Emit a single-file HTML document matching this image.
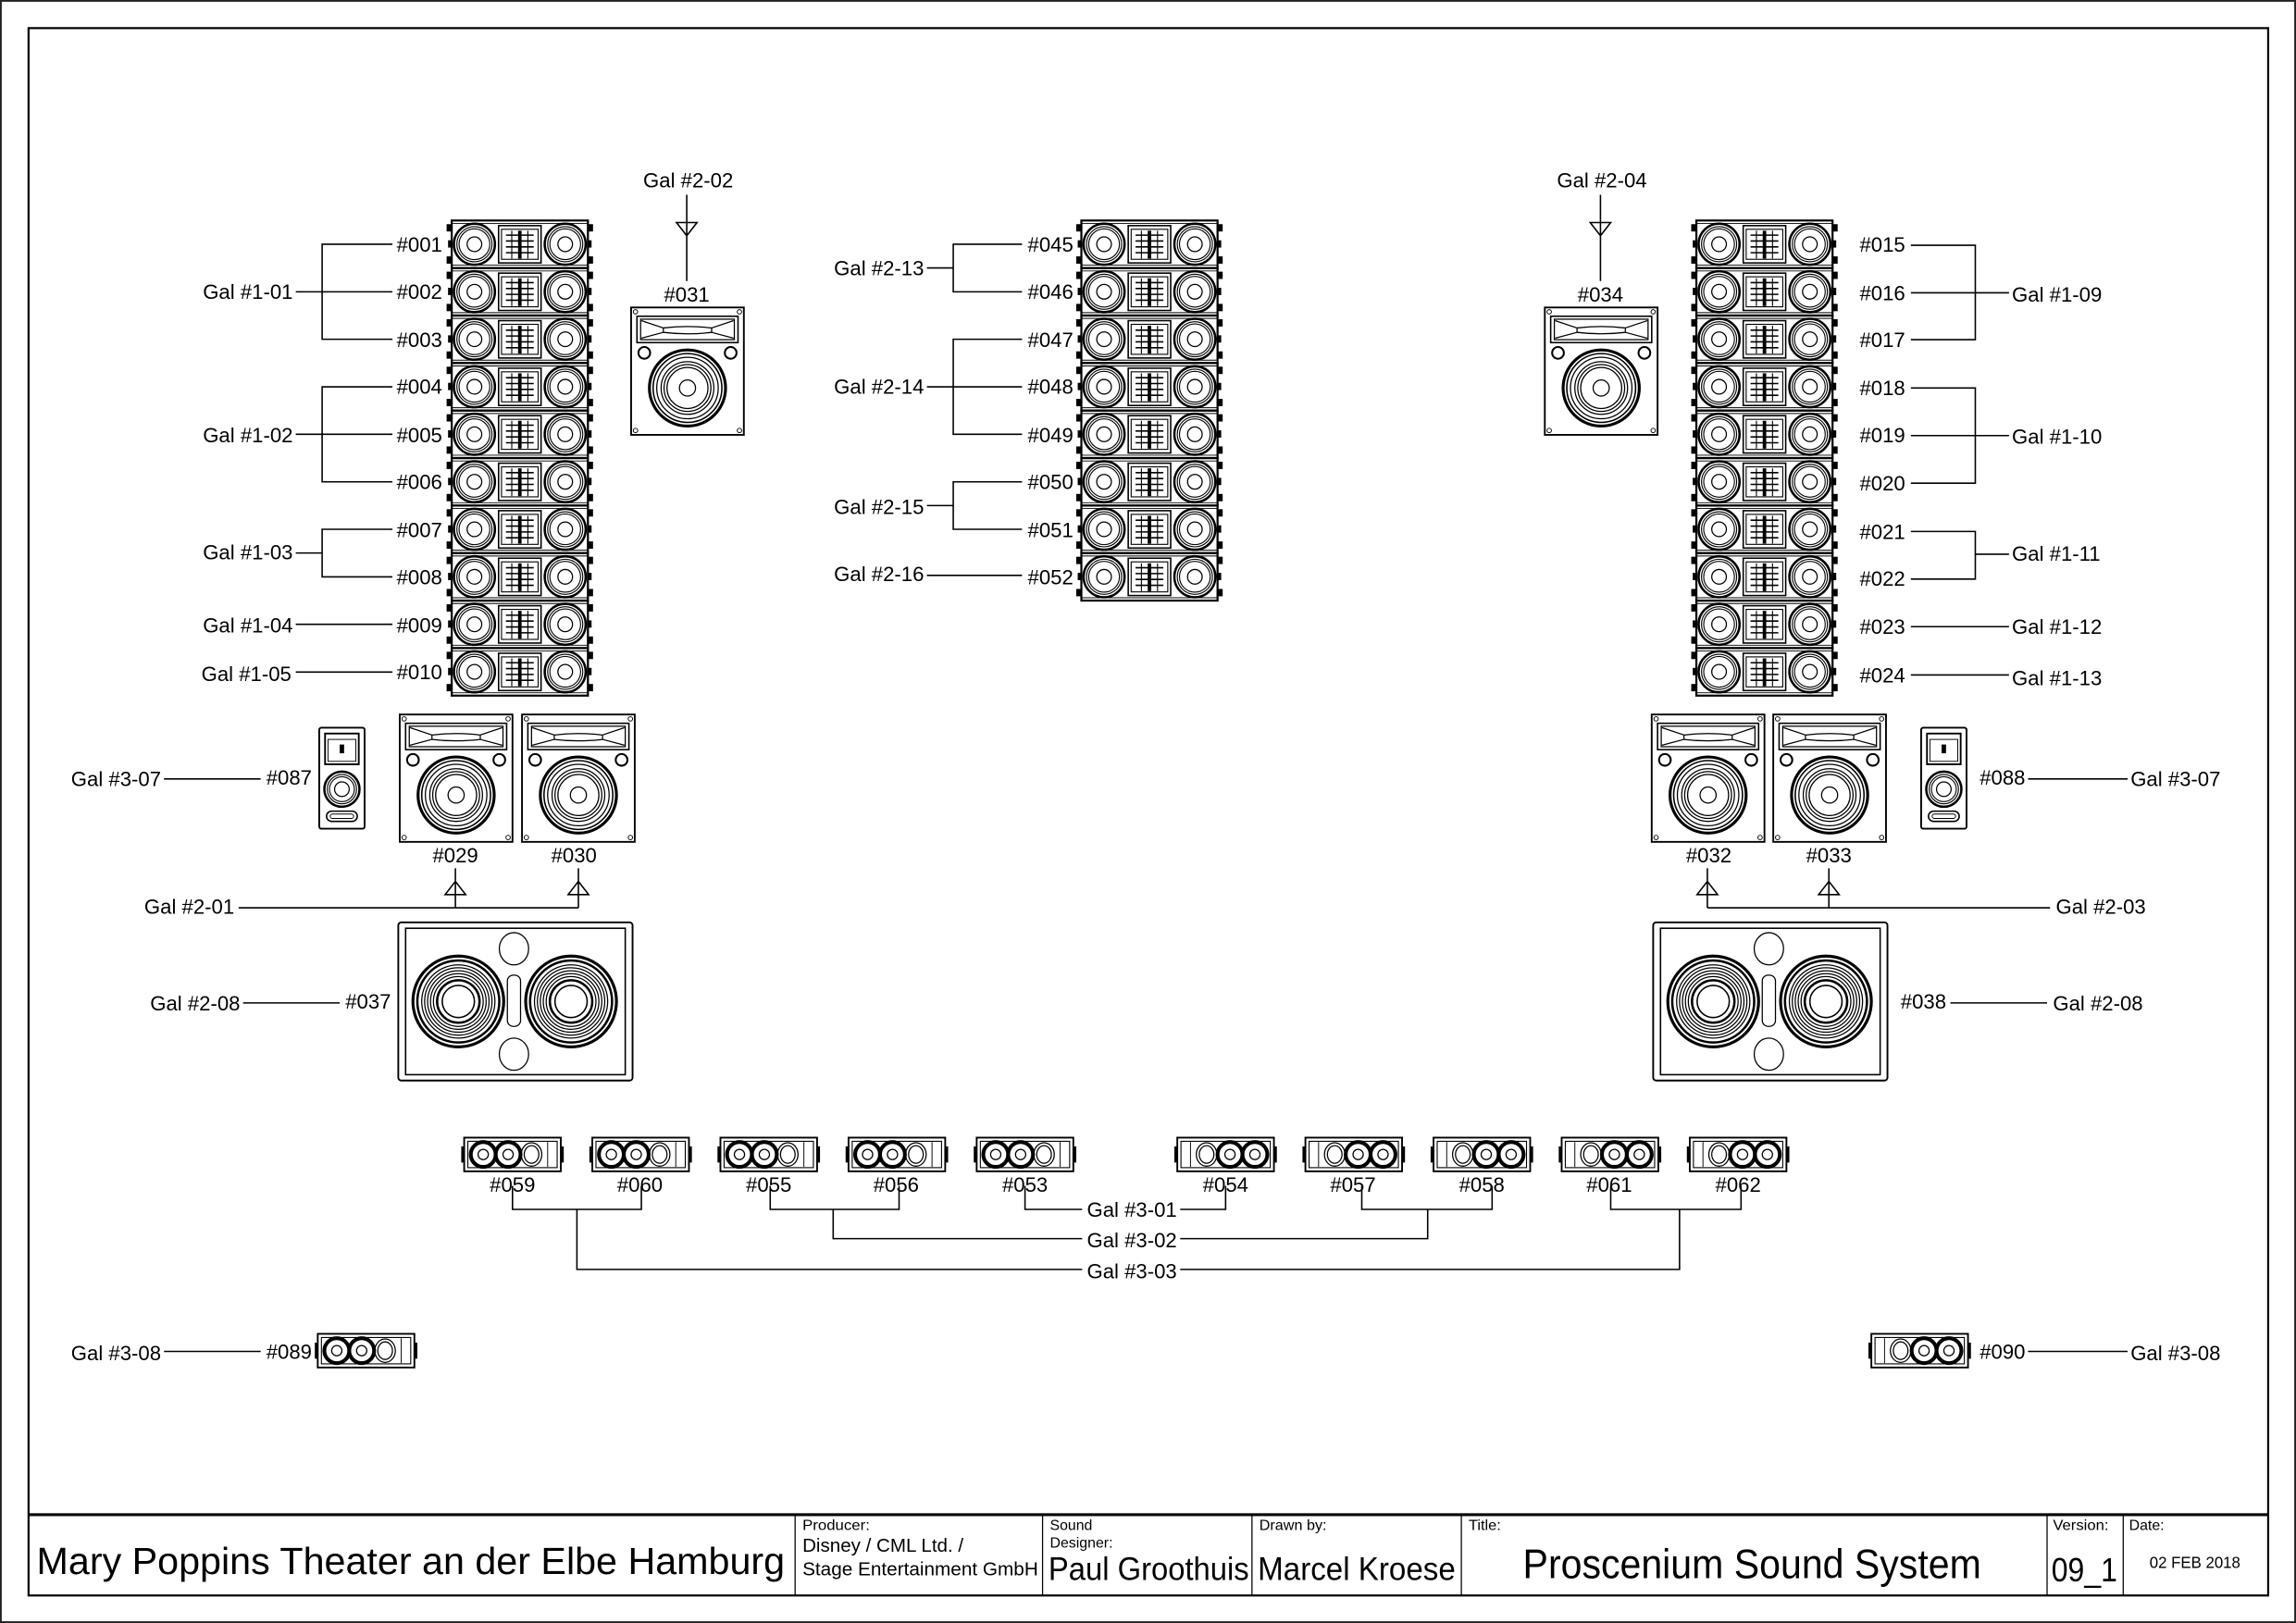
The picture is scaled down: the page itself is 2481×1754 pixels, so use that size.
<!DOCTYPE html>
<html><head><meta charset="utf-8"><style>html,body{margin:0;padding:0;background:#fff}svg{display:block}</style></head>
<body>
<svg xmlns="http://www.w3.org/2000/svg" xmlns:xlink="http://www.w3.org/1999/xlink" width="2481" height="1754" viewBox="0 0 1568 1108.5" preserveAspectRatio="none" font-family="'Liberation Sans', Arial, sans-serif" font-size="14">
<defs>
<g id="la" fill="none" stroke="#000">
  <rect x="0" y="0" width="93" height="32.45" stroke-width="1.4"/>
  <line x1="0" y1="2" x2="93" y2="2" stroke-width="0.6"/>
  <line x1="0" y1="30.5" x2="93" y2="30.5" stroke-width="0.6"/>
  <rect x="-3" y="3" width="3" height="4" fill="#000"/><rect x="-3" y="25" width="3" height="4" fill="#000"/><rect x="-2" y="14" width="2" height="4" fill="#000"/>
  <rect x="93" y="3" width="3" height="4" fill="#000"/><rect x="93" y="25" width="3" height="4" fill="#000"/><rect x="93" y="14" width="2" height="4" fill="#000"/>
  <circle cx="15.5" cy="16.2" r="14" stroke-width="1.6"/><circle cx="15.5" cy="16.2" r="12" stroke-width="0.7"/><circle cx="15.5" cy="16.2" r="10.5" stroke-width="0.7"/><circle cx="15.5" cy="16.2" r="5" stroke-width="0.8"/>
  <circle cx="77.5" cy="16.2" r="14" stroke-width="1.6"/><circle cx="77.5" cy="16.2" r="12" stroke-width="0.7"/><circle cx="77.5" cy="16.2" r="10.5" stroke-width="0.7"/><circle cx="77.5" cy="16.2" r="5" stroke-width="0.8"/>
  <rect x="32" y="3.5" width="29" height="25.5" stroke-width="1"/><rect x="34" y="6" width="25" height="20.5" stroke-width="0.7"/>
  <line x1="46.5" y1="7" x2="46.5" y2="26" stroke-width="2.4"/>
  <line x1="37" y1="10" x2="56" y2="10" stroke-width="1"/><line x1="37" y1="14" x2="56" y2="14" stroke-width="1"/><line x1="37" y1="18" x2="56" y2="18" stroke-width="1"/><line x1="37" y1="22" x2="56" y2="22" stroke-width="1"/>
  <line x1="41" y1="7" x2="41" y2="26" stroke-width="0.7"/><line x1="52" y1="7" x2="52" y2="26" stroke-width="0.7"/>
</g>
<g id="cab" fill="none" stroke="#000">
  <rect x="0" y="0" width="77" height="87" stroke-width="1.2"/>
  <circle cx="3" cy="3" r="1.5" stroke-width="0.6"/><circle cx="74" cy="3" r="1.5" stroke-width="0.6"/><circle cx="3" cy="84" r="1.5" stroke-width="0.6"/><circle cx="74" cy="84" r="1.5" stroke-width="0.6"/>
  <rect x="4" y="6" width="69" height="18" stroke-width="1"/><rect x="6.5" y="8" width="64" height="14" stroke-width="0.8"/>
  <path d="M7 9 L22 14 L22 17 L7 21 M70 9 L55 14 L55 17 L70 21 M22 14 Q38.5 12 55 14 M22 17 Q38.5 19 55 17" stroke-width="0.8"/>
  <circle cx="9" cy="31" r="4" stroke-width="1.3"/><circle cx="68" cy="31" r="4" stroke-width="1.3"/>
  <circle cx="38.5" cy="55" r="26" stroke-width="2"/><circle cx="38.5" cy="55" r="23.5" stroke-width="1"/><circle cx="38.5" cy="55" r="21" stroke-width="0.8"/><circle cx="38.5" cy="55" r="18" stroke-width="0.8"/><circle cx="38.5" cy="55" r="16" stroke-width="0.8"/><circle cx="38.5" cy="55" r="14" stroke-width="0.8"/><circle cx="38.5" cy="55" r="5.5" stroke-width="0.8"/>
</g>
<g id="sub" fill="none" stroke="#000">
  <rect x="0" y="0" width="160" height="108" rx="2" stroke-width="1.2"/>
  <rect x="5" y="4" width="150" height="100" stroke-width="1"/>
  <ellipse cx="79" cy="18" rx="10" ry="11" stroke-width="0.8"/><ellipse cx="79" cy="90" rx="10" ry="11" stroke-width="0.8"/>
  <rect x="74.5" y="36" width="9" height="35" rx="4" stroke-width="0.8"/>
  <circle cx="41" cy="54" r="31" stroke-width="2"/><circle cx="41" cy="54" r="28" stroke-width="1.6"/><circle cx="41" cy="54" r="25" stroke-width="0.8"/><circle cx="41" cy="54" r="23" stroke-width="0.8"/><circle cx="41" cy="54" r="21" stroke-width="0.8"/><circle cx="41" cy="54" r="19" stroke-width="0.8"/><circle cx="41" cy="54" r="17" stroke-width="0.8"/><circle cx="41" cy="54" r="14.5" stroke-width="1.6"/><circle cx="41" cy="54" r="11" stroke-width="1"/>
  <circle cx="118" cy="54" r="31" stroke-width="2"/><circle cx="118" cy="54" r="28" stroke-width="1.6"/><circle cx="118" cy="54" r="25" stroke-width="0.8"/><circle cx="118" cy="54" r="23" stroke-width="0.8"/><circle cx="118" cy="54" r="21" stroke-width="0.8"/><circle cx="118" cy="54" r="19" stroke-width="0.8"/><circle cx="118" cy="54" r="17" stroke-width="0.8"/><circle cx="118" cy="54" r="14.5" stroke-width="1.6"/><circle cx="118" cy="54" r="11" stroke-width="1"/>
</g>
<g id="ff" fill="none" stroke="#000">
  <rect x="0" y="0" width="66" height="23" stroke-width="1.2"/>
  <rect x="2.5" y="2.5" width="61" height="18" stroke-width="0.7"/>
  <rect x="-2" y="6" width="2" height="11" fill="#000" stroke="none"/><rect x="66" y="6" width="2" height="11" fill="#000" stroke="none"/>
  <circle cx="13" cy="11.5" r="8.5" stroke-width="2.6"/><circle cx="13" cy="11.5" r="3.5" stroke-width="0.8"/>
  <circle cx="30" cy="11.5" r="8.5" stroke-width="2.6"/><circle cx="30" cy="11.5" r="3.5" stroke-width="0.8"/>
  <ellipse cx="46" cy="11.5" rx="7" ry="8" stroke-width="0.8"/><ellipse cx="46" cy="11.5" rx="5" ry="6" stroke-width="0.8"/>
  <line x1="57" y1="3" x2="57" y2="20" stroke-width="0.6"/>
</g>
<g id="sm" fill="none" stroke="#000">
  <rect x="0" y="0" width="31" height="69" rx="1.5" stroke-width="1.2"/>
  <rect x="4" y="4" width="23" height="21" stroke-width="1.2"/><rect x="6" y="8" width="19" height="15" stroke-width="0.6"/>
  <rect x="14.5" y="12" width="2" height="5" fill="#000"/>
  <circle cx="15.5" cy="42" r="12" stroke-width="1.6"/><circle cx="15.5" cy="42" r="10" stroke-width="0.7"/><circle cx="15.5" cy="42" r="8.5" stroke-width="0.7"/><circle cx="15.5" cy="42" r="5" stroke-width="0.8"/>
  <rect x="5" y="57" width="21" height="7" rx="3.5" stroke-width="1"/><rect x="7.5" y="59" width="16" height="3" rx="1.5" stroke-width="0.6"/>
</g>
</defs>

<!-- frames -->
<rect x="0.6" y="0.6" width="1566.8" height="1107.3" fill="none" stroke="#222" stroke-width="1.2"/>
<rect x="19.5" y="19.2" width="1529.5" height="1070.5" fill="none" stroke="#000" stroke-width="1.4"/>
<line x1="19.5" y1="1034.5" x2="1549" y2="1034.5" stroke="#000" stroke-width="2"/>
<g stroke="#000" stroke-width="0.8">
<line x1="543" y1="1034" x2="543" y2="1090"/><line x1="712" y1="1034" x2="712" y2="1090"/><line x1="855" y1="1034" x2="855" y2="1090"/><line x1="998" y1="1034" x2="998" y2="1090"/><line x1="1398" y1="1034" x2="1398" y2="1090"/><line x1="1450" y1="1034" x2="1450" y2="1090"/>
</g>
<g fill="#000">
<text x="25" y="1075" font-size="26" textLength="511" lengthAdjust="spacingAndGlyphs">Mary Poppins Theater an der Elbe Hamburg</text>
<text x="548" y="1045" font-size="10" textLength="46" lengthAdjust="spacingAndGlyphs">Producer:</text>
<text x="548" y="1060" font-size="13" textLength="110" lengthAdjust="spacingAndGlyphs">Disney / CML Ltd. /</text>
<text x="548" y="1076" font-size="13" textLength="161" lengthAdjust="spacingAndGlyphs">Stage Entertainment GmbH</text>
<text x="717" y="1045" font-size="10" textLength="29" lengthAdjust="spacingAndGlyphs">Sound</text>
<text x="717" y="1057" font-size="10" textLength="43" lengthAdjust="spacingAndGlyphs">Designer:</text>
<text x="716" y="1079" font-size="22" textLength="137" lengthAdjust="spacingAndGlyphs">Paul Groothuis</text>
<text x="860" y="1045" font-size="10" textLength="46" lengthAdjust="spacingAndGlyphs">Drawn by:</text>
<text x="859" y="1079" font-size="22" textLength="135" lengthAdjust="spacingAndGlyphs">Marcel Kroese</text>
<text x="1003" y="1045" font-size="10" textLength="22" lengthAdjust="spacingAndGlyphs">Title:</text>
<text x="1040" y="1078" font-size="28" textLength="313" lengthAdjust="spacingAndGlyphs">Proscenium Sound System</text>
<text x="1402" y="1045" font-size="10" textLength="38" lengthAdjust="spacingAndGlyphs">Version:</text>
<text x="1401" y="1080" font-size="23" textLength="45" lengthAdjust="spacingAndGlyphs">09_1</text>
<text x="1454" y="1045" font-size="10" textLength="24" lengthAdjust="spacingAndGlyphs">Date:</text>
<text x="1468" y="1071" font-size="11" textLength="62" lengthAdjust="spacingAndGlyphs">02 FEB 2018</text>
</g>

<!-- line arrays -->
<g>
<use xlink:href="#la" x="308.5" y="150.6"/><use xlink:href="#la" x="308.5" y="183.05"/><use xlink:href="#la" x="308.5" y="215.5"/><use xlink:href="#la" x="308.5" y="247.95"/><use xlink:href="#la" x="308.5" y="280.4"/><use xlink:href="#la" x="308.5" y="312.85"/><use xlink:href="#la" x="308.5" y="345.3"/><use xlink:href="#la" x="308.5" y="377.75"/><use xlink:href="#la" x="308.5" y="410.2"/><use xlink:href="#la" x="308.5" y="442.65"/>
<use xlink:href="#la" x="738.5" y="150.6"/><use xlink:href="#la" x="738.5" y="183.05"/><use xlink:href="#la" x="738.5" y="215.5"/><use xlink:href="#la" x="738.5" y="247.95"/><use xlink:href="#la" x="738.5" y="280.4"/><use xlink:href="#la" x="738.5" y="312.85"/><use xlink:href="#la" x="738.5" y="345.3"/><use xlink:href="#la" x="738.5" y="377.75"/>
<use xlink:href="#la" x="1158.5" y="150.6"/><use xlink:href="#la" x="1158.5" y="183.05"/><use xlink:href="#la" x="1158.5" y="215.5"/><use xlink:href="#la" x="1158.5" y="247.95"/><use xlink:href="#la" x="1158.5" y="280.4"/><use xlink:href="#la" x="1158.5" y="312.85"/><use xlink:href="#la" x="1158.5" y="345.3"/><use xlink:href="#la" x="1158.5" y="377.75"/><use xlink:href="#la" x="1158.5" y="410.2"/><use xlink:href="#la" x="1158.5" y="442.65"/>
</g>

<!-- left array labels -->
<g fill="#000" text-anchor="end">
<text x="302" y="172">#001</text><text x="302" y="204">#002</text><text x="302" y="237">#003</text><text x="302" y="269">#004</text><text x="302" y="302">#005</text><text x="302" y="334">#006</text><text x="302" y="367">#007</text><text x="302" y="399">#008</text><text x="302" y="432">#009</text><text x="302" y="464">#010</text>
<text x="200" y="204">Gal #1-01</text><text x="200" y="302">Gal #1-02</text><text x="200" y="382">Gal #1-03</text><text x="200" y="432">Gal #1-04</text><text x="199" y="465">Gal #1-05</text>
</g>
<g stroke="#000" stroke-width="1" fill="none">
<path d="M268 166.8 H220 V231.7 H268 M202 199.3 H268"/>
<path d="M268 264.2 H220 V329.1 H268 M202 296.6 H268"/>
<path d="M268 361.5 H220 V394 H268 M202 377.7 H220"/>
<path d="M202 426.4 H268"/><path d="M202 459 H268"/>
</g>

<!-- center array labels -->
<g fill="#000" text-anchor="end">
<text x="733" y="172">#045</text><text x="733" y="204">#046</text><text x="733" y="237">#047</text><text x="733" y="269">#048</text><text x="733" y="302">#049</text><text x="733" y="334">#050</text><text x="733" y="367">#051</text><text x="733" y="399">#052</text>
<text x="631" y="188">Gal #2-13</text><text x="631" y="269">Gal #2-14</text><text x="631" y="351">Gal #2-15</text><text x="631" y="397">Gal #2-16</text>
</g>
<g stroke="#000" stroke-width="1" fill="none">
<path d="M698 166.8 H651 V199.3 H698 M633 183 H651"/>
<path d="M698 231.7 H651 V296.6 H698 M633 264.2 H698"/>
<path d="M698 329.1 H651 V361.5 H698 M633 345.3 H651"/>
<path d="M633 393 H698"/>
</g>

<!-- right array labels -->
<g fill="#000">
<text x="1270" y="172">#015</text><text x="1270" y="205">#016</text><text x="1270" y="237">#017</text><text x="1270" y="270">#018</text><text x="1270" y="302">#019</text><text x="1270" y="335">#020</text><text x="1270" y="368">#021</text><text x="1270" y="400">#022</text><text x="1270" y="433">#023</text><text x="1270" y="466">#024</text>
<text x="1374" y="206">Gal #1-09</text><text x="1374" y="303">Gal #1-10</text><text x="1374" y="383">Gal #1-11</text><text x="1374" y="433">Gal #1-12</text><text x="1374" y="468">Gal #1-13</text>
</g>
<g stroke="#000" stroke-width="1" fill="none">
<path d="M1305 167.5 H1349 V232 H1305 M1305 200 H1372"/>
<path d="M1305 265 H1349 V330 H1305 M1305 297.5 H1372"/>
<path d="M1305 363 H1349 V395.5 H1305 M1349 378.5 H1372"/>
<path d="M1305 428 H1372"/><path d="M1305 461 H1372"/>
</g>

<!-- top fills -->
<use xlink:href="#cab" x="431" y="210"/>
<use xlink:href="#cab" x="1055" y="210"/>
<g fill="#000" text-anchor="middle">
<text x="470" y="128">Gal #2-02</text><text x="469" y="206">#031</text>
<text x="1094" y="128">Gal #2-04</text><text x="1093" y="206">#034</text>
</g>
<g stroke="#000" stroke-width="1" fill="none">
<path d="M469 133 V192 M462 152 H476 L469 161 Z"/>
<path d="M1093 133 V192 M1086 152 H1100 L1093 161 Z"/>
</g>

<!-- mains -->
<use xlink:href="#cab" x="273" y="488"/><use xlink:href="#cab" x="356.5" y="488"/>
<use xlink:href="#cab" x="1128" y="488"/><use xlink:href="#cab" x="1211" y="488"/>
<g fill="#000" text-anchor="middle">
<text x="311" y="589">#029</text><text x="392" y="589">#030</text>
<text x="1167" y="589">#032</text><text x="1249" y="589">#033</text>
</g>
<g fill="#000" text-anchor="end"><text x="160" y="624">Gal #2-01</text></g>
<g fill="#000"><text x="1404" y="624">Gal #2-03</text></g>
<g stroke="#000" stroke-width="1" fill="none">
<path d="M311 593 V620 M304 611 H318 L311 602 Z M395 593 V620 M388 611 H402 L395 602 Z M163 620 H395"/>
<path d="M1166 593 V620 M1159 611 H1173 L1166 602 Z M1249 593 V620 M1242 611 H1256 L1249 602 Z M1166 620 H1400"/>
</g>

<!-- small boxes -->
<use xlink:href="#sm" x="218" y="497"/><use xlink:href="#sm" x="1312" y="497"/>
<g fill="#000" text-anchor="end"><text x="213" y="536">#087</text><text x="110" y="537">Gal #3-07</text></g>
<g fill="#000"><text x="1352" y="536">#088</text><text x="1455" y="537">Gal #3-07</text></g>
<g stroke="#000" stroke-width="1"><line x1="112" y1="532" x2="178" y2="532"/><line x1="1385" y1="532" x2="1453" y2="532"/></g>

<!-- subs -->
<use xlink:href="#sub" x="272" y="630"/><use xlink:href="#sub" x="1129" y="630"/>
<g fill="#000" text-anchor="end"><text x="267" y="689">#037</text><text x="164" y="690">Gal #2-08</text></g>
<g fill="#000"><text x="1298" y="689">#038</text><text x="1402" y="690">Gal #2-08</text></g>
<g stroke="#000" stroke-width="1"><line x1="166" y1="685" x2="232" y2="685"/><line x1="1332" y1="685" x2="1398" y2="685"/></g>

<!-- front fills -->
<use xlink:href="#ff" x="317" y="777"/><use xlink:href="#ff" x="404.5" y="777"/><use xlink:href="#ff" x="492" y="777"/><use xlink:href="#ff" x="579.5" y="777"/><use xlink:href="#ff" x="667" y="777"/>
<g transform="translate(1674 0) scale(-1 1)">
<use xlink:href="#ff" x="804" y="777"/><use xlink:href="#ff" x="716.5" y="777"/><use xlink:href="#ff" x="629" y="777"/><use xlink:href="#ff" x="541.5" y="777"/><use xlink:href="#ff" x="454" y="777"/>
</g>
<g fill="#000" text-anchor="middle">
<text x="350" y="814">#059</text><text x="437" y="814">#060</text><text x="525" y="814">#055</text><text x="612" y="814">#056</text><text x="700" y="814">#053</text>
<text x="837" y="814">#054</text><text x="924" y="814">#057</text><text x="1012" y="814">#058</text><text x="1099" y="814">#061</text><text x="1187" y="814">#062</text>
<text x="773" y="831">Gal #3-01</text><text x="773" y="852">Gal #3-02</text><text x="773" y="873">Gal #3-03</text>
</g>
<g stroke="#000" stroke-width="1" fill="none">
<path d="M700 810 V826 H739 M806 826 H837 V810"/>
<path d="M350 810 V826 H438 V810 M394 826 V867 H739 M806 867 H1147 V826 M1100 810 V826 H1189 V810"/>
<path d="M526 810 V826 H614 V810 M569 826 V846 H739 M806 846 H975 V826 M930 810 V826 H1019 V810"/>
</g>

<!-- bottom fills -->
<use xlink:href="#ff" x="217" y="911"/>
<g transform="translate(2622 0) scale(-1 1)"><use xlink:href="#ff" x="1278" y="911"/></g>
<g fill="#000" text-anchor="end"><text x="213" y="928">#089</text><text x="110" y="929">Gal #3-08</text></g>
<g fill="#000"><text x="1352" y="928">#090</text><text x="1455" y="929">Gal #3-08</text></g>
<g stroke="#000" stroke-width="1"><line x1="112" y1="923" x2="178" y2="923"/><line x1="1385" y1="923" x2="1453" y2="923"/></g>
</svg>
</body></html>
